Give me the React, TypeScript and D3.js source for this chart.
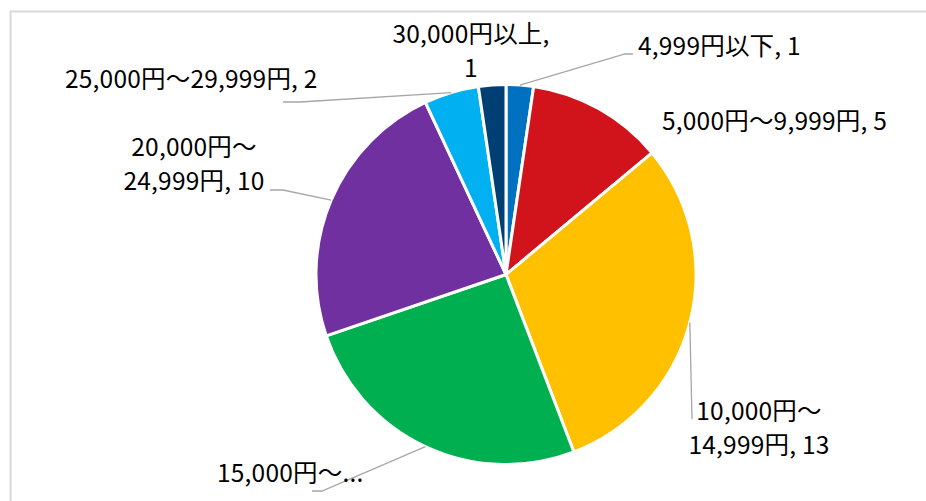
import * as d3 from "d3";
import { useEffect, useRef } from "react";

// price bands (yen) and counts, clockwise from 12 o'clock
const categories = [
    "4,999円以下",
    "5,000円～9,999円",
    "10,000円～14,999円",
    "15,000円～19,999円",
    "20,000円～24,999円",
    "25,000円～29,999円",
    "30,000円以上",
];
const counts = [1, 5, 13, 11, 10, 2, 1];
const colors = ["#0070C0", "#D1141C", "#FFC000", "#00B050", "#7030A0", "#00B0F0", "#003F73"];

// how each data label is broken / placed
type Wrap = "none" | "tilde" | "comma" | "trunc";
const labelLayout: { x: number; y: number; anchor: string; wrap: Wrap; leader: [number, number][] }[] = [
    { x: 638, y: 55, anchor: "start", wrap: "none", leader: [[625, 54], [633, 54]] },
    { x: 662, y: 130, anchor: "start", wrap: "none", leader: [] },
    { x: 759, y: 420, anchor: "middle", wrap: "tilde", leader: [[692, 419]] },
    { x: 217, y: 482, anchor: "start", wrap: "trunc", leader: [[322, 491], [312, 491]] },
    { x: 194, y: 156, anchor: "middle", wrap: "tilde", leader: [[283, 190], [270, 190]] },
    { x: 65, y: 88, anchor: "start", wrap: "none", leader: [[300, 102], [283, 102]] },
    { x: 471, y: 43, anchor: "middle", wrap: "comma", leader: [] },
];

function labelLines(cat: string, v: number, wrap: Wrap): string[] {
    const full = `${cat}, ${v}`;
    if (wrap === "tilde") {
        const i = cat.indexOf("～") + 1;
        return [cat.slice(0, i), `${cat.slice(i)}, ${v}`];
    }
    if (wrap === "comma") return [`${cat},`, `${v}`];
    if (wrap === "trunc") return [cat.slice(0, cat.indexOf("～") + 1) + "..."];
    return [full];
}

export default function App() {
    const ref = useRef<SVGSVGElement | null>(null);
    const width = 926;
    const height = 501;

    useEffect(() => {
        if (!ref.current) return;
        const svg = d3.select(ref.current);
        svg.selectAll("*").remove();

        // chart area border
        svg.append("rect")
            .attr("x", 10.5)
            .attr("y", 11.5)
            .attr("width", 940)
            .attr("height", 520)
            .attr("fill", "#fff")
            .attr("stroke", "#D9D9D9")
            .attr("stroke-width", 2);

        const cx = 506, cy = 274.5, r = 190;
        const data = categories.map((c, i) => ({ category: c, value: counts[i] }));
        const pie = d3.pie<{ category: string; value: number }>()
            .sort(null)
            .value(d => d.value);
        const arcs = pie(data);
        const arc = d3.arc<d3.PieArcDatum<{ category: string; value: number }>>()
            .innerRadius(0)
            .outerRadius(r);

        const g = svg.append("g").attr("transform", `translate(${cx},${cy})`);

        g.selectAll("path")
            .data(arcs)
            .enter()
            .append("path")
            .attr("d", arc)
            .attr("fill", (_, i) => colors[i])
            .attr("stroke", "#fff")
            .attr("stroke-width", 3)
            .attr("stroke-linejoin", "round");

        // leader lines
        arcs.forEach((a, i) => {
            const lay = labelLayout[i];
            if (!lay.leader.length) return;
            const mid = (a.startAngle + a.endAngle) / 2;
            const start: [number, number] = [cx + r * Math.sin(mid), cy - r * Math.cos(mid)];
            svg.append("path")
                .attr("d", d3.line()([start, ...lay.leader])!)
                .attr("fill", "none")
                .attr("stroke", "#A6A6A6")
                .attr("stroke-width", 1.3);
        });

        // data labels
        arcs.forEach((a, i) => {
            const lay = labelLayout[i];
            const lines = labelLines(a.data.category, a.data.value, lay.wrap);
            const t = svg.append("text")
                .attr("x", lay.x)
                .attr("y", lay.y)
                .attr("text-anchor", lay.anchor)
                .attr("font-family", "'Noto Sans CJK JP', 'Noto Sans', sans-serif")
                .attr("font-size", 24.5)
                .attr("letter-spacing", 0.2)
                .attr("fill", "#000");
            lines.forEach((ln, k) => {
                t.append("tspan")
                    .attr("x", lay.x)
                    .attr("dy", k === 0 ? 0 : 34)
                    .text(ln);
            });
        });
    }, []);

    return (
        <svg
            ref={ref}
            width={width}
            height={height}
            style={{ position: "absolute", left: 0, top: 0, background: "#fff" }}
        />
    );
}
